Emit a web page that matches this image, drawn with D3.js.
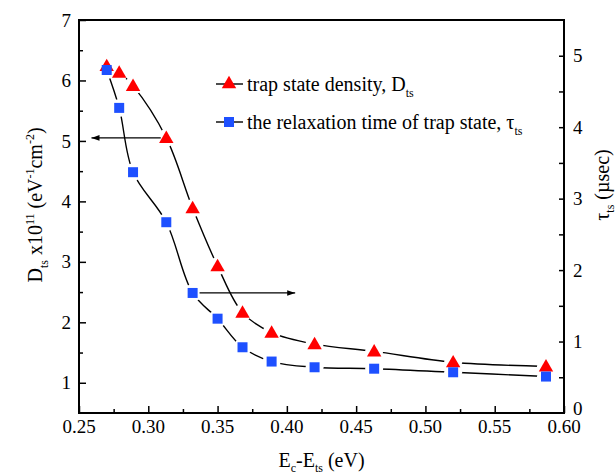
<!DOCTYPE html>
<html>
<head>
    <title>Trap state density and relaxation time</title>
    <script src="https://d3js.org/d3.v7.min.js"></script>
    <style>
        body { margin: 0; background: #fff; }
        text { font-family: "Liberation Serif", "DejaVu Serif", "Times New Roman", serif; }
        .curve { fill: none; stroke: #000; stroke-width: 1.4px; }
        .tick-label { font-size: 19px; fill: #000; }
        .title { font-size: 20px; fill: #000; }
        .legend { font-size: 20px; fill: #000; }
    </style>
</head>
<body>
    <svg width="616" height="476"></svg>
    <script>
        // energy E_c - E_ts (eV)
        var energy = [0.270, 0.279, 0.289, 0.313, 0.332, 0.350, 0.368, 0.389, 0.420, 0.463, 0.520, 0.587];
        // trap state density D_ts x10^11 (left axis)
        var density = [6.24, 6.13, 5.91, 5.05, 3.89, 2.93, 2.16, 1.83, 1.64, 1.52, 1.34, 1.27];
        // relaxation time tau_ts in usec (right axis)
        var tau = [4.80, 4.27, 3.37, 2.67, 1.68, 1.32, 0.92, 0.72, 0.64, 0.62, 0.57, 0.51];

        var xTicks = [0.25, 0.30, 0.35, 0.40, 0.45, 0.50, 0.55, 0.60];
        var yLeftTicks = [1, 2, 3, 4, 5, 6, 7];
        var yRightTicks = [0, 1, 2, 3, 4, 5];

        // arrows: from marker to the axis it belongs to
        var arrowLeft = {x0: 0.309, x1: 0.259, y: 5.05};
        var arrowRight = {x0: 0.337, x1: 0.406, y: 1.68};

        var serif = "'Liberation Serif', 'DejaVu Serif', 'Times New Roman', serif";

        var svg = d3.select("svg"),
            margin = {top: 20, right: 52, bottom: 63, left: 79},
            width = +svg.attr("width") - margin.left - margin.right,
            height = +svg.attr("height") - margin.top - margin.bottom;

        var x = d3.scaleLinear().domain([0.25, 0.60]).range([0, width]);
        var yL = d3.scaleLinear().domain([0.5, 7]).range([height, 0]);
        var yR = d3.scaleLinear().domain([0, 5.5]).range([height, 0]);

        var g = svg.append("g")
                   .attr("transform", "translate(" + margin.left + "," + margin.top + ")");

        var defs = svg.append("defs");
        defs.append("marker")
            .attr("id", "head")
            .attr("viewBox", "0 0 10 10")
            .attr("refX", 10).attr("refY", 5)
            .attr("markerWidth", 12).attr("markerHeight", 8)
            .attr("markerUnits", "userSpaceOnUse")
            .attr("orient", "auto")
            .append("path")
            .attr("d", "M0,1.5L10,5L0,8.5Z")
            .attr("fill", "#000");

        var dData = energy.map(function(e, i) { return {x: e, y: density[i]}; });
        var tData = energy.map(function(e, i) { return {x: e, y: tau[i]}; });

        // masks so the curves stop short of the symbols
        function makeMask(id, data, yScale) {
            var m = defs.append("mask").attr("id", id)
                .attr("maskUnits", "userSpaceOnUse")
                .attr("x", -margin.left).attr("y", -margin.top)
                .attr("width", 616).attr("height", 476);
            m.append("rect")
             .attr("x", -margin.left).attr("y", -margin.top)
             .attr("width", 616).attr("height", 476)
             .attr("fill", "#fff");
            m.selectAll("circle").data(data).enter().append("circle")
             .attr("cx", function(d) { return x(d.x); })
             .attr("cy", function(d) { return yScale(d.y); })
             .attr("r", 9)
             .attr("fill", "#000");
        }
        makeMask("maskD", dData, yL);
        makeMask("maskT", tData, yR);

        var curve = d3.curveCatmullRom.alpha(0.5);

        g.append("path")
         .datum(dData)
         .attr("class", "curve")
         .attr("mask", "url(#maskD)")
         .attr("d", d3.line().x(function(d) { return x(d.x); }).y(function(d) { return yL(d.y); }).curve(curve));

        g.append("path")
         .datum(tData)
         .attr("class", "curve")
         .attr("mask", "url(#maskT)")
         .attr("d", d3.line().x(function(d) { return x(d.x); }).y(function(d) { return yR(d.y); }).curve(curve));

        // arrows
        g.append("line")
         .attr("x1", x(arrowLeft.x0)).attr("x2", x(arrowLeft.x1))
         .attr("y1", yL(arrowLeft.y)).attr("y2", yL(arrowLeft.y))
         .attr("stroke", "#000").attr("stroke-width", 1.2)
         .attr("marker-end", "url(#head)");
        g.append("line")
         .attr("x1", x(arrowRight.x0)).attr("x2", x(arrowRight.x1))
         .attr("y1", yR(arrowRight.y)).attr("y2", yR(arrowRight.y))
         .attr("stroke", "#000").attr("stroke-width", 1.2)
         .attr("marker-end", "url(#head)");

        var tri = d3.symbol().type(d3.symbolTriangle).size(90);
        var sq = d3.symbol().type(d3.symbolSquare).size(100);

        g.selectAll(".tri").data(dData).enter().append("path")
         .attr("class", "tri")
         .attr("d", tri)
         .attr("transform", function(d) { return "translate(" + x(d.x) + "," + (yL(d.y) + 1) + ")"; })
         .attr("fill", "#ff0000");

        g.selectAll(".sq").data(tData).enter().append("path")
         .attr("class", "sq")
         .attr("d", sq)
         .attr("transform", function(d) { return "translate(" + x(d.x) + "," + yR(d.y) + ")"; })
         .attr("fill", "#1e50ff");

        // axes (ticks point inward)
        var gx = g.append("g")
         .attr("transform", "translate(0," + height + ")")
         .call(d3.axisBottom(x).tickValues(d3.range(0.25, 0.6001, 0.025)).tickSize(-4).tickFormat(""));
        gx.selectAll(".tick line").filter(function(d, i) { return i % 2 === 0; }).attr("y2", -7);
        gx.select(".domain").remove();
        g.selectAll(".xlab").data(xTicks).enter().append("text")
         .attr("class", "tick-label")
         .attr("font-family", serif)
         .attr("x", function(d) { return x(d); })
         .attr("y", height + 20)
         .attr("text-anchor", "middle")
         .text(function(d) { return d3.format(".2f")(d); });

        var gyl = g.append("g")
         .call(d3.axisLeft(yL).tickValues(d3.range(1, 7.01, 0.5)).tickSize(-4).tickFormat(""));
        gyl.selectAll(".tick line").filter(function(d) { return d % 1 === 0; }).attr("x2", 7);
        gyl.select(".domain").remove();
        g.selectAll(".yllab").data(yLeftTicks).enter().append("text")
         .attr("class", "tick-label")
         .attr("font-family", serif)
         .attr("x", -8)
         .attr("y", function(d) { return yL(d); })
         .attr("dy", "0.35em")
         .attr("text-anchor", "end")
         .text(function(d) { return d; });

        var gyr = g.append("g")
         .attr("transform", "translate(" + width + ",0)")
         .call(d3.axisRight(yR).tickValues(d3.range(0.5, 5.01, 0.5)).tickSize(-5).tickFormat(""));
        gyr.select(".domain").remove();
        g.selectAll(".yrlab").data(yRightTicks).enter().append("text")
         .attr("class", "tick-label")
         .attr("font-family", serif)
         .attr("x", width + 9)
         .attr("y", function(d) { return yR(d) - (d === 0 ? 5 : 0); })
         .attr("dy", "0.35em")
         .attr("text-anchor", "start")
         .text(function(d) { return d; });

        g.selectAll(".tick line").attr("stroke", "#000").attr("stroke-width", 1.5);

        // frame
        g.append("rect")
         .attr("width", width).attr("height", height)
         .attr("fill", "none").attr("stroke", "#000").attr("stroke-width", 2);

        // axis titles
        var xt = svg.append("text").attr("class", "title")
            .attr("font-family", serif)
            .attr("x", margin.left + width / 2).attr("y", 467)
            .attr("text-anchor", "middle");
        xt.append("tspan").text("E");
        xt.append("tspan").attr("font-size", "12px").attr("dy", 5).text("c");
        xt.append("tspan").attr("dy", -5).text("-E");
        xt.append("tspan").attr("font-size", "12px").attr("dy", 5).text("ts");
        xt.append("tspan").attr("dy", -5).text(" (eV)");

        var yt = svg.append("text").attr("class", "title")
            .attr("font-family", serif)
            .attr("transform", "translate(42,205) rotate(-90)")
            .attr("text-anchor", "middle");
        yt.append("tspan").text("D");
        yt.append("tspan").attr("font-size", "12px").attr("dy", 6).text("ts");
        yt.append("tspan").attr("dy", -6).text(" x10");
        yt.append("tspan").attr("font-size", "12px").attr("dy", -8).text("11");
        yt.append("tspan").attr("dy", 8).text(" (eV");
        yt.append("tspan").attr("font-size", "12px").attr("dy", -8).text("-1");
        yt.append("tspan").attr("dy", 8).text("cm");
        yt.append("tspan").attr("font-size", "12px").attr("dy", -8).text("-2");
        yt.append("tspan").attr("dy", 8).text(")");

        var rt = svg.append("text").attr("class", "title")
            .attr("font-family", serif)
            .attr("transform", "translate(609,185) rotate(-90)")
            .attr("text-anchor", "middle");
        rt.append("tspan").text("\u03c4");
        rt.append("tspan").attr("font-size", "12px").attr("dy", 5).text("ts");
        rt.append("tspan").attr("dy", -5).text(" (\u00b5sec)");

        // legend
        var legend = [
            {label: "trap state density, D", sub: "ts", symbol: tri, color: "#ff0000", y: 84},
            {label: "the relaxation time of trap state, \u03c4", sub: "ts", symbol: sq, color: "#1e50ff", y: 122}
        ];
        legend.forEach(function(l) {
            var lg = svg.append("g");
            lg.append("line")
              .attr("x1", 216).attr("x2", 243)
              .attr("y1", l.y).attr("y2", l.y)
              .attr("stroke", "#000").attr("stroke-width", 1.4);
            lg.append("path")
              .attr("d", l.symbol)
              .attr("transform", "translate(229," + l.y + ")")
              .attr("fill", l.color);
            var t = lg.append("text").attr("class", "legend")
              .attr("font-family", serif)
              .attr("x", 247).attr("y", l.y + 7);
            t.append("tspan").text(l.label);
            t.append("tspan").attr("font-size", "12px").attr("dy", 6).text(l.sub);
        });
    </script>
</body>
</html>
